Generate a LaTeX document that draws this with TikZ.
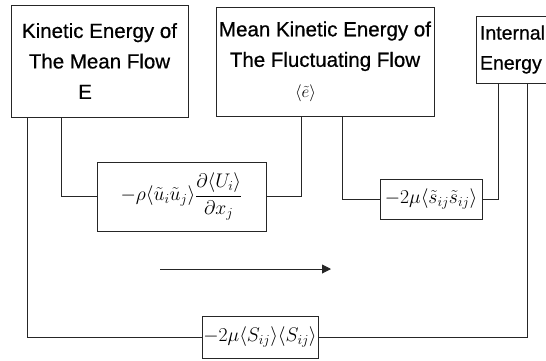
\RequirePackage{fix-cm}
\documentclass[tikz,border=0pt]{standalone}
\usepackage{amsmath}
\usepackage{fontspec}
\setmainfont[FakeBold=0.6]{Liberation Sans}
\usetikzlibrary{arrows.meta}
\tikzset{
  box/.style={draw=black!85, line width=0.9pt, rectangle, inner sep=0pt, align=center,
    font=\fontsize{20.5}{30.5}\selectfont},
  fbox/.style={draw=black!85, line width=0.9pt, rectangle, inner sep=0pt,
    font=\fontsize{19.7}{23}\selectfont},
  wire/.style={draw=black!85, line width=0.9pt}
}
\begin{document}
\begin{tikzpicture}[x=1pt,y=-1pt]
\useasboundingbox (0,0) rectangle (546,360);
\clip (0,0) rectangle (546,360);
% main boxes
\node[box, minimum width=177pt, minimum height=112pt] (ke) at (99.5,61)
  {Kinetic Energy of\\The Mean Flow\\E\hspace*{29pt}};
\node[box, minimum width=218pt, minimum height=109pt] (mke) at (325,61.5)
  {Mean Kinetic Energy of\\The Fluctuating Flow\\{\fontsize{17}{20}\selectfont$\langle\tilde{e}\rangle$}\hspace*{39pt}};
\node[box, align=left, inner xsep=4pt, text width=76pt, minimum height=67pt,
  font=\fontsize{19.5}{30}\selectfont] (ie) at (518,49.5)
  {Internal\\Energy};
% formula boxes
\node[fbox, minimum width=169pt, minimum height=69pt] (f1) at (181.5,196.5)
  {$-\rho\langle\tilde{u}_i\tilde{u}_j\rangle\dfrac{\partial\langle U_i\rangle}{\partial x_j}$};
\node[fbox, minimum width=102pt, minimum height=40pt] (f2) at (431,199)
  {$-2\mu\langle\tilde{s}_{ij}\tilde{s}_{ij}\rangle$};
\node[fbox, minimum width=116pt, minimum height=42pt] (fb) at (260,337)
  {$-2\mu\langle S_{ij}\rangle\langle S_{ij}\rangle$};
% connector columns
\coordinate (l1) at (27,0);
\coordinate (l2) at (61,0);
\coordinate (m1) at (301,0);
\coordinate (m2) at (342,0);
\coordinate (r1) at (498,0);
\coordinate (r2) at (527,0);
% connectors
\draw[wire] (ke.south -| l1) |- (fb.west);
\draw[wire] (fb.east) -| (ie.south -| r2);
\draw[wire] (ke.south -| l2) |- (f1.west);
\draw[wire] (f1.east) -| (mke.south -| m1);
\draw[wire] (mke.south -| m2) |- (f2.west);
\draw[wire] (f2.east) -| (ie.south -| r1);
% arrow
\coordinate (a1) at (160,269);
\coordinate (a2) at (331,269);
\draw[wire, -{Triangle[length=9pt,width=9pt]}] (a1) -- (a2);
\end{tikzpicture}
\end{document}
